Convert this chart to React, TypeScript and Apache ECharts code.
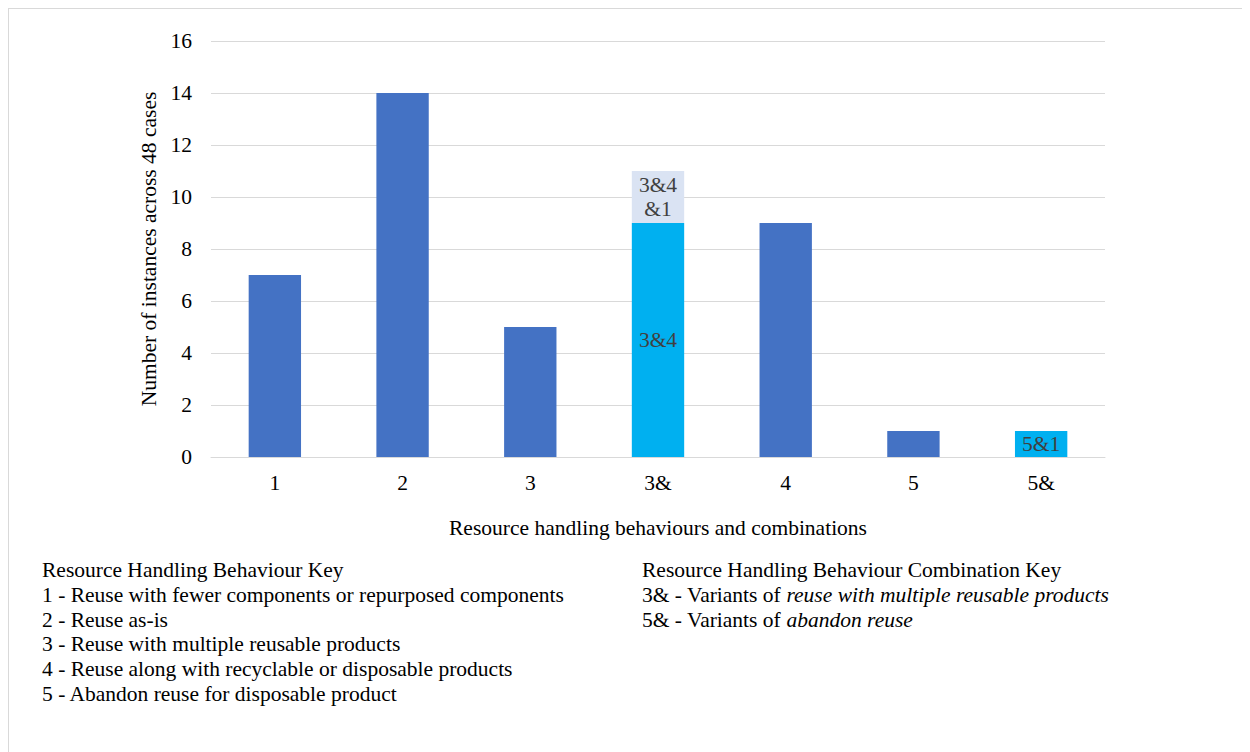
import React, { useEffect, useRef } from "react";
import * as echarts from "echarts";

const categories = ["1", "2", "3", "3&", "4", "5", "5&"];
const singleValues = [7, 14, 5, null, 9, 1, null];
const comboValues = [null, null, null, 9, null, null, 1];
const comboLabels = ["", "", "", "3&4", "", "", "5&1"];
const extraValues = [null, null, null, 2, null, null, null];
const extraLabels = ["", "", "", "3&4\n&1", "", "", ""];

const yAxisTitle = "Number of instances across 48 cases";
const xAxisTitle = "Resource handling behaviours and combinations";

const behaviourKeyTitle = "Resource Handling Behaviour Key";
const behaviourKey = [
  "1 - Reuse with fewer components or repurposed components",
  "2 - Reuse as-is",
  "3 - Reuse with multiple reusable products",
  "4 - Reuse along with recyclable or disposable products",
  "5 - Abandon reuse for disposable product",
];
const comboKeyTitle = "Resource Handling Behaviour Combination Key";
const comboKeyPrefix = ["3& - Variants of ", "5& - Variants of "];
const comboKeyItalic = ["reuse with multiple reusable products", "abandon reuse"];

const FONT = "Liberation Serif";
const FS = 21.5;
const TEXT = "#404040";

export default function App() {
  const ref = useRef<HTMLDivElement>(null);
  useEffect(() => {
    if (!ref.current) return;
    const chart = echarts.init(ref.current, null, { renderer: "svg" });
    const lineH = 24.8;
    const leftX = 33;
    const rightX = 633;
    const topY = 561;
    const graphics: any[] = [];
    const txt = (x: number, y: number, text: string, rich?: any) => {
      const style: any = {
        text,
        fontSize: FS,
        fontFamily: FONT,
        fill: "#000",
        verticalAlign: "middle",
      };
      if (rich) style.rich = rich;
      return { type: "text", x, y, style };
    };
    [behaviourKeyTitle, ...behaviourKey].forEach((t, i) => {
      graphics.push(txt(leftX, topY + i * lineH, t));
    });
    graphics.push(txt(rightX, topY, comboKeyTitle));
    comboKeyPrefix.forEach((p, i) => {
      graphics.push(
        txt(rightX, topY + (i + 1) * lineH, `{n|${p}}{i|${comboKeyItalic[i]}}`, {
          n: { fontSize: FS, fontFamily: FONT, fill: "#000" },
          i: { fontStyle: "italic", fontSize: FS, fontFamily: FONT, fill: "#000" },
        })
      );
    });

    const labelStyle = (arr: string[]) => ({
      show: true,
      position: "inside",
      color: TEXT,
      fontSize: FS,
      fontFamily: FONT,
      lineHeight: 24,
      formatter: (p: any) => arr[p.dataIndex] || "",
    });

    chart.setOption({
      animation: false,
      textStyle: { fontFamily: FONT },
      grid: { left: 202, right: 145, top: 32, bottom: 295, containLabel: false },
      xAxis: {
        type: "category",
        data: categories,
        axisLine: { lineStyle: { color: "#d9d9d9", width: 1 } },
        axisTick: { show: false },
        axisLabel: { color: "#000", fontSize: FS, fontFamily: FONT, margin: 15 },
        name: xAxisTitle,
        nameLocation: "middle",
        nameGap: 60,
        nameTextStyle: { color: "#000", fontSize: FS, fontFamily: FONT },
      },
      yAxis: {
        type: "value",
        min: 0,
        max: 16,
        interval: 2,
        axisLine: { show: false },
        axisTick: { show: false },
        splitLine: { lineStyle: { color: "#d9d9d9", width: 1 } },
        axisLabel: { color: "#000", fontSize: FS, fontFamily: FONT, margin: 19 },
        name: yAxisTitle,
        nameLocation: "middle",
        nameGap: 47,
        nameRotate: 90,
        nameTextStyle: { color: "#000", fontSize: FS, fontFamily: FONT },
      },
      series: [
        {
          type: "bar",
          stack: "total",
          barWidth: "41%",
          data: singleValues.map((v) => (v == null ? "-" : v)),
          itemStyle: { color: "#4472C4" },
        },
        {
          type: "bar",
          stack: "total",
          barWidth: "41%",
          data: comboValues.map((v) => (v == null ? "-" : v)),
          itemStyle: { color: "#00B0F0" },
          label: labelStyle(comboLabels),
        },
        {
          type: "bar",
          stack: "total",
          barWidth: "41%",
          data: extraValues.map((v) => (v == null ? "-" : v)),
          itemStyle: { color: "#DAE3F3" },
          label: labelStyle(extraLabels),
        },
      ],
      graphic: graphics,
    });
    return () => chart.dispose();
  }, []);
  return (
    <div
      ref={ref}
      style={{
        width: 1241,
        height: 743,
        borderLeft: "1px solid #d9d9d9",
        borderTop: "1px solid #d9d9d9",
        background: "#fff",
      }}
    />
  );
}
